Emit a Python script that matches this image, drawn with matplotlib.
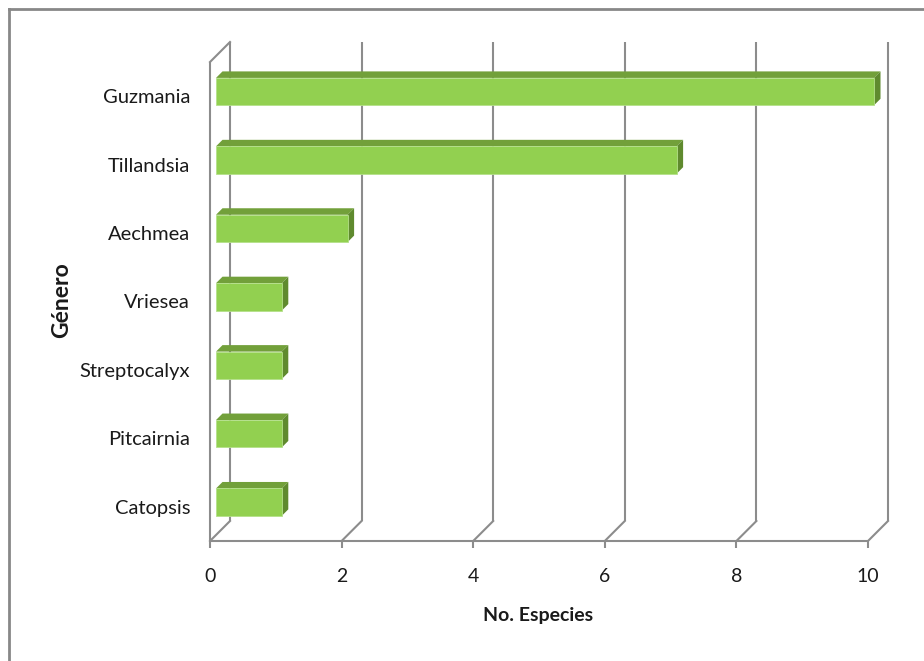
import matplotlib
matplotlib.use("Agg")
import matplotlib.pyplot as plt
from matplotlib.patches import Polygon
from matplotlib.transforms import ScaledTranslation

generos = ["Catopsis", "Pitcairnia", "Streptocalyx", "Vriesea", "Aechmea", "Tillandsia", "Guzmania"]
especies = [1, 1, 1, 1, 2, 7, 10]
x_ticks = [0, 2, 4, 6, 8, 10]

plt.rcParams['font.family'] = ['Lato', 'DejaVu Sans']

fig = plt.figure(figsize=(9.24, 6.61), dpi=100)
ax = fig.add_axes([210 / 924, 120 / 661, 658 / 924, 479 / 661])
ax.set_xlim(0, 10)
ax.set_ylim(-0.48, 6.52)
for s in ax.spines.values():
    s.set_visible(False)
ax.set_xticks([])
ax.set_yticks([])

# depth of the 3D box and of the bars, in pixels
depth = 20
bar_off = 6
bar_depth = 6.5
ppx = 658 / 10.0          # pixels per x unit
ppy = 479 / 7.0           # pixels per y unit

grid = "#8c8c8c"
txt = "#1a1a1a"
back = ax.transData + ScaledTranslation(depth / 100, depth / 100, fig.dpi_scale_trans)
y0, y1 = ax.get_ylim()

# left wall
ax.plot([0, 0], [y0, y1], color=grid, lw=1.5, clip_on=False, solid_capstyle="butt")
ax.plot([0, 0 + depth / ppx], [y1, y1 + depth / ppy], color=grid, lw=1.5, clip_on=False)
# floor front edge
ax.plot([0, 10], [y0, y0], color=grid, lw=1.5, clip_on=False, solid_capstyle="butt")
for t in x_ticks:
    ax.plot([t, t], [y0, y1], color=grid, lw=1.5, transform=back, clip_on=False, solid_capstyle="butt")
    ax.plot([t, t + depth / ppx], [y0, y0 + depth / ppy], color=grid, lw=1.5, clip_on=False)
    ax.plot([t, t], [y0, y0 - 7 / ppy], color=grid, lw=1.5, clip_on=False, solid_capstyle="butt")
    ax.text(t, y0 - 35 / ppy, str(t), ha="center", va="center", fontsize=14, color=txt)

# bars
h = 0.40
ox, oy = bar_off / ppx, bar_off / ppy
dx, dy = bar_depth / ppx, bar_depth / ppy
for i, v in enumerate(especies):
    xl, xr = ox, v + ox
    yb, yt = i - h / 2 + oy, i + h / 2 + oy
    ax.add_patch(Polygon([(xl, yt), (xr, yt), (xr + dx, yt + dy), (xl + dx, yt + dy)],
                         closed=True, facecolor="#72a03a", edgecolor="none", zorder=3, clip_on=False))
    ax.add_patch(Polygon([(xr, yb), (xr + dx, yb + dy), (xr + dx, yt + dy), (xr, yt)],
                         closed=True, facecolor="#5f8a2e", edgecolor="none", zorder=3, clip_on=False))
    ax.add_patch(Polygon([(xl, yb), (xr, yb), (xr, yt), (xl, yt)],
                         closed=True, facecolor="#92d050", edgecolor="#b4e08a", lw=0.6, zorder=4, clip_on=False))
    ax.text(-20 / ppx, i, generos[i], ha="right", va="center", fontsize=14.5, color=txt)

fig.text(538 / 924, 1 - 615 / 661, "No. Especies", ha="center", va="center", fontsize=14, fontweight="bold", color=txt)
fig.text(62 / 924, 1 - 300 / 661, "Género", ha="center", va="center", fontsize=16.5, fontweight="bold", rotation=90, color=txt)

# outer chart border
fig.add_artist(plt.Line2D([8.5 / 924, 8.5 / 924], [0, 1 - 8.5 / 661], color="#888888", lw=2))
fig.add_artist(plt.Line2D([8.5 / 924, 1], [1 - 8.5 / 661, 1 - 8.5 / 661], color="#888888", lw=2))

fig.savefig("out.png", dpi=100)
